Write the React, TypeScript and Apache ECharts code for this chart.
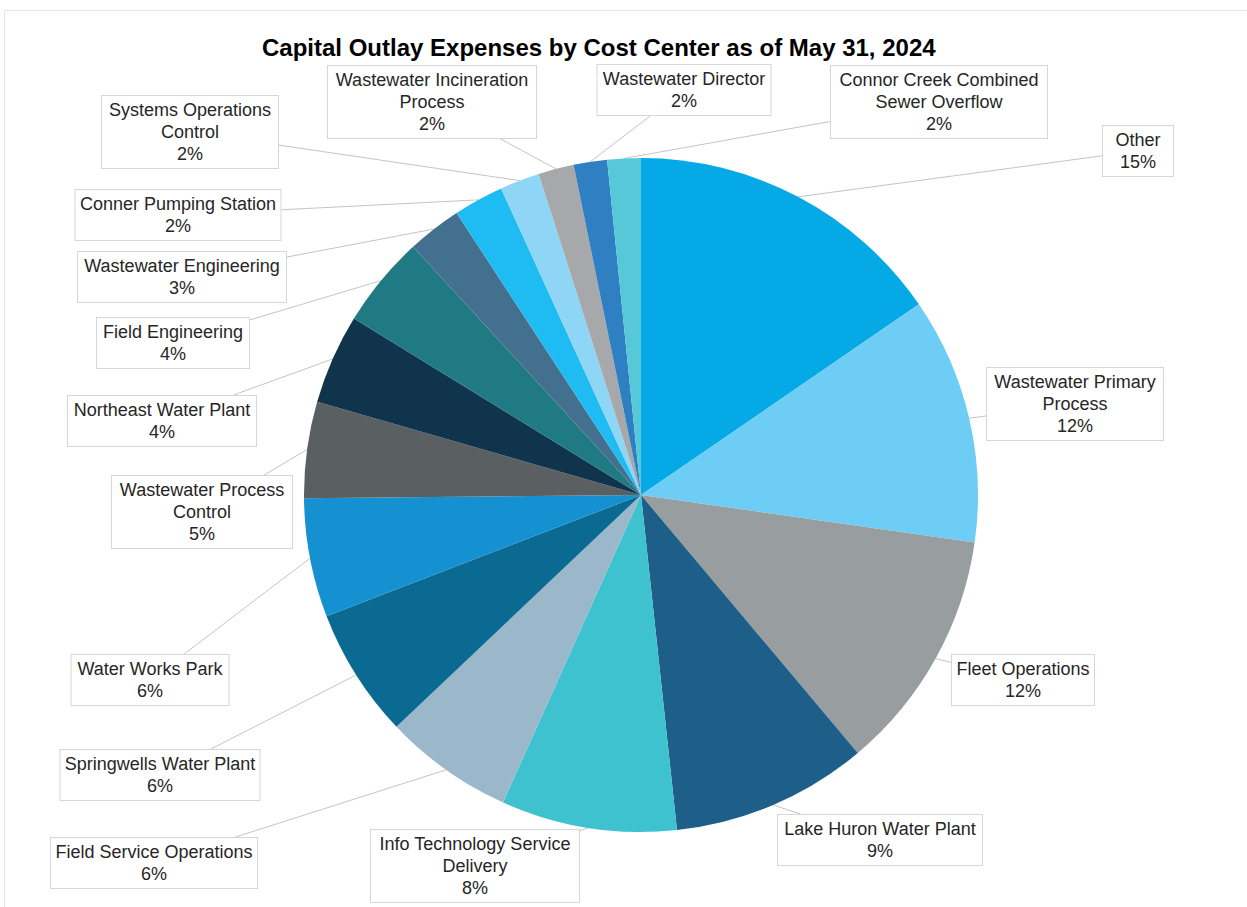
import React, { useEffect, useRef } from "react";
import * as echarts from "echarts";

const TITLE = "Capital Outlay Expenses by Cost Center as of May 31, 2024";

const categories = [
  "Other",
  "Wastewater Primary\nProcess",
  "Fleet Operations",
  "Lake Huron Water Plant",
  "Info Technology Service\nDelivery",
  "Field Service Operations",
  "Springwells Water Plant",
  "Water Works Park",
  "Wastewater Process\nControl",
  "Northeast Water Plant",
  "Field Engineering",
  "Wastewater Engineering",
  "Conner Pumping Station",
  "Systems Operations\nControl",
  "Wastewater Incineration\nProcess",
  "Wastewater Director",
  "Connor Creek Combined\nSewer Overflow",
];

const shares = [15.4, 11.8, 11.6, 9.4, 8.4, 6.2, 6.2, 5.7, 4.6, 4.3, 4.4, 2.6, 2.4, 1.9, 1.7, 1.6, 1.6];

const sliceColors = [
  "#05A9E6",
  "#6DCDF5",
  "#989EA0",
  "#1E5F8A",
  "#3EC2D0",
  "#9BB8CB",
  "#0A6A92",
  "#1590D0",
  "#5A5F62",
  "#10344C",
  "#1F7A83",
  "#43708E",
  "#1EBCF2",
  "#8FD6F6",
  "#A6A8A9",
  "#2F80C2",
  "#56C8D8",
];

// label box layout: centre x, centre y, box width (px)
const labelBoxes: number[][] = [
  [1138, 151, 72],
  [1075, 404, 178],
  [1023, 680, 144],
  [880, 840, 206],
  [475, 866, 210],
  [154, 863, 208],
  [160, 775, 201],
  [150, 680, 159],
  [202, 512, 182],
  [162, 421, 190],
  [173, 343, 154],
  [182, 277, 210],
  [178, 215, 207],
  [190, 132, 178],
  [432, 102, 210],
  [684, 90, 175],
  [939, 102, 218],
];

const FONT = "'Liberation Sans', Arial, sans-serif";

export default function App() {
  const ref = useRef<HTMLDivElement>(null);

  useEffect(() => {
    document.body.style.margin = "0";
    if (!ref.current) return;
    const chart = echarts.init(ref.current, undefined, { renderer: "svg" });

    const data = categories.map((name, i) => ({
      name,
      value: shares[i],
      itemStyle: { color: sliceColors[i] },
      label: { width: labelBoxes[i][2] - 2 },
    }));

    chart.setOption({
      animation: false,
      backgroundColor: "#ffffff",
      title: {
        text: TITLE,
        left: 262,
        top: 35,
        padding: 0,
        textStyle: {
          fontFamily: FONT,
          fontSize: 24,
          fontWeight: "bold",
          color: "#000000",
        },
      },
      graphic: [
        {
          type: "rect",
          shape: { x: 4.5, y: 10.5, width: 1260, height: 920 },
          style: { fill: "none", stroke: "#e4e4e4", lineWidth: 1 },
          silent: true,
          z: -1,
        },
      ],
      series: [
        {
          type: "pie",
          center: [641, 495],
          radius: [0, 337],
          startAngle: 90,
          clockwise: true,
          avoidLabelOverlap: false,
          itemStyle: { borderWidth: 0 },
          label: {
            show: true,
            position: "outer",
            formatter: (p: any) => `${p.name}\n${Math.round(p.percent)}%`,
            fontFamily: FONT,
            fontSize: 18,
            lineHeight: 22,
            color: "#262626",
            backgroundColor: "#ffffff",
            borderColor: "#d6d6d6",
            borderWidth: 1,
            padding: [3, 0],
            align: "center",
          },
          labelLine: {
            show: true,
            length: 10,
            length2: 10,
            smooth: false,
            lineStyle: { color: "#c4c4c4", width: 1 },
          },
          labelLayout: (params: any) => {
            const i = params.dataIndex;
            const [cx, cy, w] = labelBoxes[i];
            const h = params.labelRect.height;
            const pts = params.labelLinePoints;
            const res: any = { x: cx, y: cy, align: "center", verticalAlign: "middle" };
            if (pts && pts.length) {
              const sx = pts[0][0];
              const sy = pts[0][1];
              const dx = cx - sx;
              const dy = cy - sy;
              const hw = w / 2;
              const hh = h / 2;
              const tx = Math.abs(dx) > hw ? 1 - hw / Math.abs(dx) : 0;
              const ty = Math.abs(dy) > hh ? 1 - hh / Math.abs(dy) : 0;
              const t = Math.max(tx, ty, 0);
              const ex = sx + t * dx;
              const ey = sy + t * dy;
              res.labelLinePoints = [
                [sx, sy],
                [ex, ey],
                [ex, ey],
              ];
            }
            return res;
          },
          data,
        },
      ],
    });

    return () => {
      chart.dispose();
    };
  }, []);

  return (
    <div
      ref={ref}
      style={{ position: "absolute", left: 0, top: 0, width: 1247, height: 907 }}
    />
  );
}
